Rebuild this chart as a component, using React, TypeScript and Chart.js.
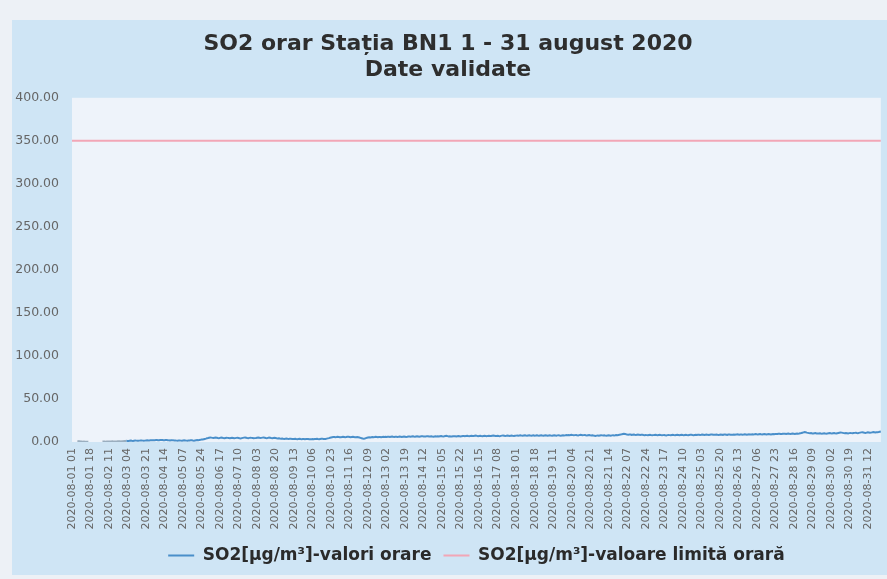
import React, { useEffect, useRef } from "react";
import { Chart, registerables } from "chart.js";

Chart.register(...registerables);

const titleLines = ["SO2 orar Stația BN1 1 - 31 august 2020", "Date validate"];
const seriesHourlyLabel = "SO2[µg/m³]-valori orare";
const seriesLimitLabel = "SO2[µg/m³]-valoare limită orară";

const monthPrefix = "2020-08-";
const dayCount = 31;
const hoursPerDay = 24;
const tickStep = 17;
const yTicks = [0, 50, 100, 150, 200, 250, 300, 350, 400];
const limitValue = 350;

// hourly SO2 values, 24 per day, 1..31 August 2020 (null = missing)
const so2Hourly: (number | null)[] = [
  null, null, null, null, null, 1.2, 1.0, 0.8, 0.6, 0.5, 0.4, 0.5, 0.4, 0.3, 0.4, 0.3, null, null, null, null, null, null, null, null,
  null, null, null, null, 0.5, 0.6, 0.5, 0.4, 0.6, 0.7, 0.6, 0.5, 0.6, 0.8, 0.7, 0.6, 0.5, 0.7, 0.8, 0.9, 0.8, 0.7, 0.9, 1.0,
  1.2, 1.3, 1.4, 1.3, 1.2, 1.5, 1.6, 1.4, 1.3, 1.5, 1.7, 1.6, 1.5, 1.4, 1.6, 1.8, 1.7, 1.6, 1.5, 1.6, 1.8, 1.9, 1.7, 1.8,
  1.9, 2.0, 2.1, 2.0, 1.9, 2.2, 2.3, 2.1, 2.0, 2.2, 2.4, 2.3, 2.1, 2.0, 2.2, 2.3, 2.1, 1.9, 1.8, 2.0, 2.1, 1.9, 1.8, 1.7,
  1.6, 1.5, 1.7, 1.8, 1.6, 1.5, 1.7, 1.9, 1.8, 1.6, 1.5, 1.7, 1.8, 2.0, 1.9, 1.7, 1.6, 1.8, 2.0, 2.2, 2.1, 2.3, 2.5, 2.8,
  3.0, 3.3, 3.6, 3.9, 4.3, 4.6, 5.0, 5.3, 5.1, 4.8, 4.6, 4.9, 5.2, 5.0, 4.7, 4.5, 4.8, 5.1, 4.9, 4.6, 4.4, 4.7, 5.0, 4.8,
  4.6, 4.4, 4.7, 4.9, 4.6, 4.3, 4.5, 4.8, 5.0, 4.7, 4.4, 4.2, 4.5, 4.8, 5.1, 5.3, 5.0, 4.7, 4.5, 4.8, 5.0, 4.8, 4.6, 4.4,
  4.5, 4.7, 5.0, 5.2, 4.9, 4.6, 4.8, 5.1, 5.3, 5.0, 4.7, 4.5, 4.8, 5.1, 4.9, 4.6, 4.4, 4.7, 4.9, 4.6, 4.3, 4.1, 4.3, 4.0,
  3.9, 4.1, 3.8, 3.6, 3.8, 4.0, 3.7, 3.5, 3.7, 3.9, 3.6, 3.4, 3.6, 3.8, 3.5, 3.3, 3.5, 3.7, 3.4, 3.2, 3.4, 3.6, 3.3, 3.5,
  3.4, 3.6, 3.3, 3.1, 3.3, 3.5, 3.2, 3.4, 3.6, 3.8, 3.5, 3.3, 3.5, 3.7, 3.9, 3.6, 3.4, 3.6, 3.9, 4.2, 4.5, 4.9, 5.2, 5.5,
  5.7, 5.9, 5.6, 5.8, 6.1, 5.9, 5.6, 5.4, 5.7, 6.0, 5.8, 5.5, 5.7, 6.0, 6.2, 5.9, 5.6, 5.8, 6.0, 5.7, 5.4, 5.6, 5.8, 5.5,
  5.2, 4.8, 4.4, 4.0, 3.8, 4.1, 4.5, 4.9, 5.2, 5.5, 5.3, 5.6, 5.8, 5.5, 5.7, 6.0, 5.8, 5.5, 5.7, 5.9, 5.6, 5.8, 6.0, 5.9,
  6.1, 5.9, 6.2, 6.0, 5.8, 6.1, 6.3, 6.0, 5.8, 6.0, 6.2, 5.9, 6.1, 6.4, 6.2, 5.9, 6.1, 6.3, 6.1, 5.8, 6.0, 6.3, 6.5, 6.2,
  6.4, 6.6, 6.3, 6.1, 6.4, 6.7, 6.5, 6.2, 6.4, 6.6, 6.8, 6.5, 6.3, 6.5, 6.8, 6.6, 6.3, 6.5, 6.7, 6.4, 6.2, 6.5, 6.7, 6.5,
  6.6, 6.4, 6.7, 6.9, 6.6, 6.4, 6.6, 6.9, 7.1, 6.8, 6.5, 6.7, 6.5, 6.3, 6.6, 6.8, 6.6, 6.4, 6.7, 6.9, 6.7, 6.5, 6.8, 7.0,
  7.0, 6.8, 7.1, 7.3, 7.0, 6.8, 7.1, 7.3, 7.1, 6.9, 7.2, 7.4, 7.1, 6.8, 7.0, 7.2, 6.9, 6.7, 7.0, 7.2, 7.0, 6.8, 7.1, 7.3,
  7.1, 6.9, 7.2, 7.4, 7.2, 6.9, 7.1, 7.3, 7.0, 6.8, 7.1, 7.4, 7.6, 7.3, 7.0, 7.2, 7.5, 7.3, 7.0, 7.2, 7.4, 7.1, 6.9, 7.2,
  7.4, 7.6, 7.3, 7.5, 7.7, 7.4, 7.2, 7.5, 7.8, 7.5, 7.3, 7.6, 7.8, 7.5, 7.3, 7.5, 7.7, 7.4, 7.6, 7.9, 7.6, 7.4, 7.6, 7.8,
  7.5, 7.3, 7.6, 7.8, 7.6, 7.3, 7.5, 7.7, 7.4, 7.2, 7.5, 7.8, 7.6, 7.4, 7.7, 7.9, 7.6, 7.4, 7.6, 7.8, 7.5, 7.7, 8.0, 7.8,
  8.0, 7.8, 8.1, 8.3, 8.0, 7.8, 8.0, 8.2, 7.9, 7.7, 8.0, 8.3, 8.1, 7.8, 8.0, 8.2, 7.9, 7.7, 7.9, 8.1, 7.8, 7.6, 7.8, 7.5,
  7.3, 7.1, 7.4, 7.6, 7.3, 7.6, 7.9, 7.7, 7.5, 7.7, 7.4, 7.2, 7.5, 7.8, 7.6, 7.4, 7.7, 7.9, 7.6, 7.8, 8.1, 7.9, 8.2, 8.4,
  8.6, 8.9, 9.3, 9.6, 9.4, 9.0, 8.7, 8.5, 8.8, 8.6, 8.3, 8.5, 8.7, 8.4, 8.2, 8.4, 8.6, 8.3, 8.1, 8.3, 8.5, 8.2, 8.0, 8.2,
  8.0, 7.8, 8.1, 8.3, 8.0, 7.8, 8.0, 8.2, 8.4, 8.1, 7.9, 8.1, 8.3, 8.0, 7.8, 8.0, 8.2, 7.9, 7.7, 8.0, 8.2, 8.0, 7.8, 8.1,
  8.3, 8.0, 7.8, 8.1, 8.3, 8.1, 7.9, 8.2, 8.4, 8.1, 7.9, 8.1, 8.3, 8.0, 7.8, 8.1, 8.3, 8.5, 8.2, 8.0, 8.2, 8.4, 8.1, 8.3,
  8.5, 8.2, 8.4, 8.7, 8.5, 8.2, 8.4, 8.6, 8.3, 8.1, 8.4, 8.6, 8.8, 8.5, 8.3, 8.5, 8.7, 8.4, 8.2, 8.5, 8.7, 8.5, 8.3, 8.6,
  8.8, 8.5, 8.3, 8.6, 8.8, 8.5, 8.3, 8.5, 8.7, 8.4, 8.6, 8.9, 8.7, 8.4, 8.6, 8.8, 8.5, 8.7, 9.0, 8.8, 8.5, 8.7, 8.9, 8.6,
  8.8, 9.0, 8.7, 8.9, 9.2, 8.9, 8.7, 9.0, 9.2, 8.9, 8.7, 9.0, 9.3, 9.1, 8.8, 9.0, 9.2, 9.0, 8.8, 9.1, 9.3, 9.0, 9.2, 9.4,
  9.2, 9.5, 9.7, 9.4, 9.2, 9.5, 9.7, 9.5, 9.3, 9.6, 9.8, 9.5, 9.3, 9.6, 9.8, 9.6, 9.4, 9.7, 9.9, 9.6, 9.8, 10.1, 10.4, 10.8,
  11.2, 11.5, 11.3, 10.9, 10.6, 10.3, 10.1, 10.3, 10.0, 9.8, 10.1, 10.3, 10.0, 9.8, 10.0, 10.2, 9.9, 9.7, 10.0, 10.2, 9.9, 9.7, 10.0, 10.2,
  10.4, 10.1, 9.9, 10.2, 10.4, 10.1, 9.9, 10.2, 10.5, 10.8, 11.1, 10.9, 10.6, 10.3, 10.1, 10.4, 10.2, 10.0, 10.3, 10.5, 10.3, 10.1, 10.4, 10.6,
  10.8, 10.5, 10.3, 10.6, 10.9, 11.2, 11.4, 11.1, 10.8, 10.6, 10.9, 11.2, 11.0, 10.7, 10.9, 11.2, 11.5, 11.3, 11.0, 11.2, 11.4, 11.6, 11.9, 12.2,
];

const pad2 = (n: number) => (n < 10 ? "0" + n : String(n));
const hourLabels: string[] = [];
for (let d = 1; d <= dayCount; d++) {
  for (let h = 1; h <= hoursPerDay; h++) {
    hourLabels.push(`${monthPrefix}${pad2(d)} ${pad2(h)}`);
  }
}
const limitSeries = hourLabels.map(() => limitValue);

const plotBackground = {
  id: "plotBackground",
  beforeDraw(chart: any) {
    const { ctx, chartArea } = chart;
    ctx.save();
    ctx.fillStyle = "#eef3fa";
    ctx.fillRect(chartArea.left, chartArea.top, chartArea.right - chartArea.left, chartArea.bottom - chartArea.top);
    ctx.restore();
  },
};

export default function App() {
  const ref = useRef<HTMLCanvasElement | null>(null);

  useEffect(() => {
    if (!ref.current) return;
    const chart = new Chart(ref.current, {
      type: "line",
      data: {
        labels: hourLabels,
        datasets: [
          {
            label: seriesHourlyLabel,
            data: so2Hourly,
            borderColor: "#4a8fca",
            backgroundColor: "#4a8fca",
            borderWidth: 2,
            pointRadius: 0,
            tension: 0,
            spanGaps: false,
            segment: {
              borderColor: (ctx: any) => (ctx.p0DataIndex < 50 ? "#9aaebf" : "#4a8fca"),
            },
          },
          {
            label: seriesLimitLabel,
            data: limitSeries,
            borderColor: "#f2a6b6",
            backgroundColor: "#f2a6b6",
            borderWidth: 2,
            pointRadius: 0,
            tension: 0,
          },
        ],
      },
      options: {
        animation: false,
        responsive: false,
        maintainAspectRatio: false,
        layout: { padding: { left: 0, right: 3, top: 0, bottom: 1 } },
        plugins: {
          title: {
            display: true,
            text: titleLines,
            color: "#2e2e2e",
            font: { family: "DejaVu Sans", size: 22, weight: "bold", lineHeight: 1.2 },
            padding: { top: 11, bottom: 14 },
          },
          legend: {
            position: "bottom",
            fullSize: false,
            labels: {
              usePointStyle: true,
              pointStyle: "line",
              pointStyleWidth: 26,
              color: "#2a2a2a",
              font: { family: "DejaVu Sans", size: 17, weight: "bold" },
              padding: 12,
            },
          },
          tooltip: { enabled: false },
        },
        scales: {
          x: {
            type: "category",
            grid: { display: false, drawTicks: false },
            border: { display: false },
            ticks: {
              autoSkip: false,
              minRotation: 90,
              maxRotation: 90,
              padding: 6,
              color: "#666",
              font: { family: "DejaVu Sans", size: 11 },
              callback: (_v: any, i: number) => (i % tickStep === 0 ? hourLabels[i] : null),
            },
            afterFit: (s: any) => {
              s.height = 93;
            },
          },
          y: {
            min: yTicks[0],
            max: yTicks[yTicks.length - 1],
            grid: { display: false, drawTicks: false },
            border: { display: false },
            afterBuildTicks: (s: any) => {
              s.ticks = yTicks.map((v) => ({ value: v }));
            },
            ticks: {
              padding: 13,
              color: "#666",
              font: { family: "DejaVu Sans", size: 12.5 },
              callback: (v: any) => Number(v).toFixed(2),
            },
            afterFit: (s: any) => {
              s.width = 60;
            },
          },
        },
      },
      plugins: [plotBackground],
    } as any);
    return () => chart.destroy();
  }, []);

  return (
    <div style={{ position: "fixed", left: 0, top: 0, width: 887, height: 579, background: "#edf1f6", overflow: "hidden" }}>
      <div style={{ position: "absolute", left: 12, top: 20, width: 875, height: 555, background: "#cfe5f5" }}>
        <canvas ref={ref} width={875} height={555} style={{ display: "block", width: 875, height: 555 }} />
      </div>
    </div>
  );
}
